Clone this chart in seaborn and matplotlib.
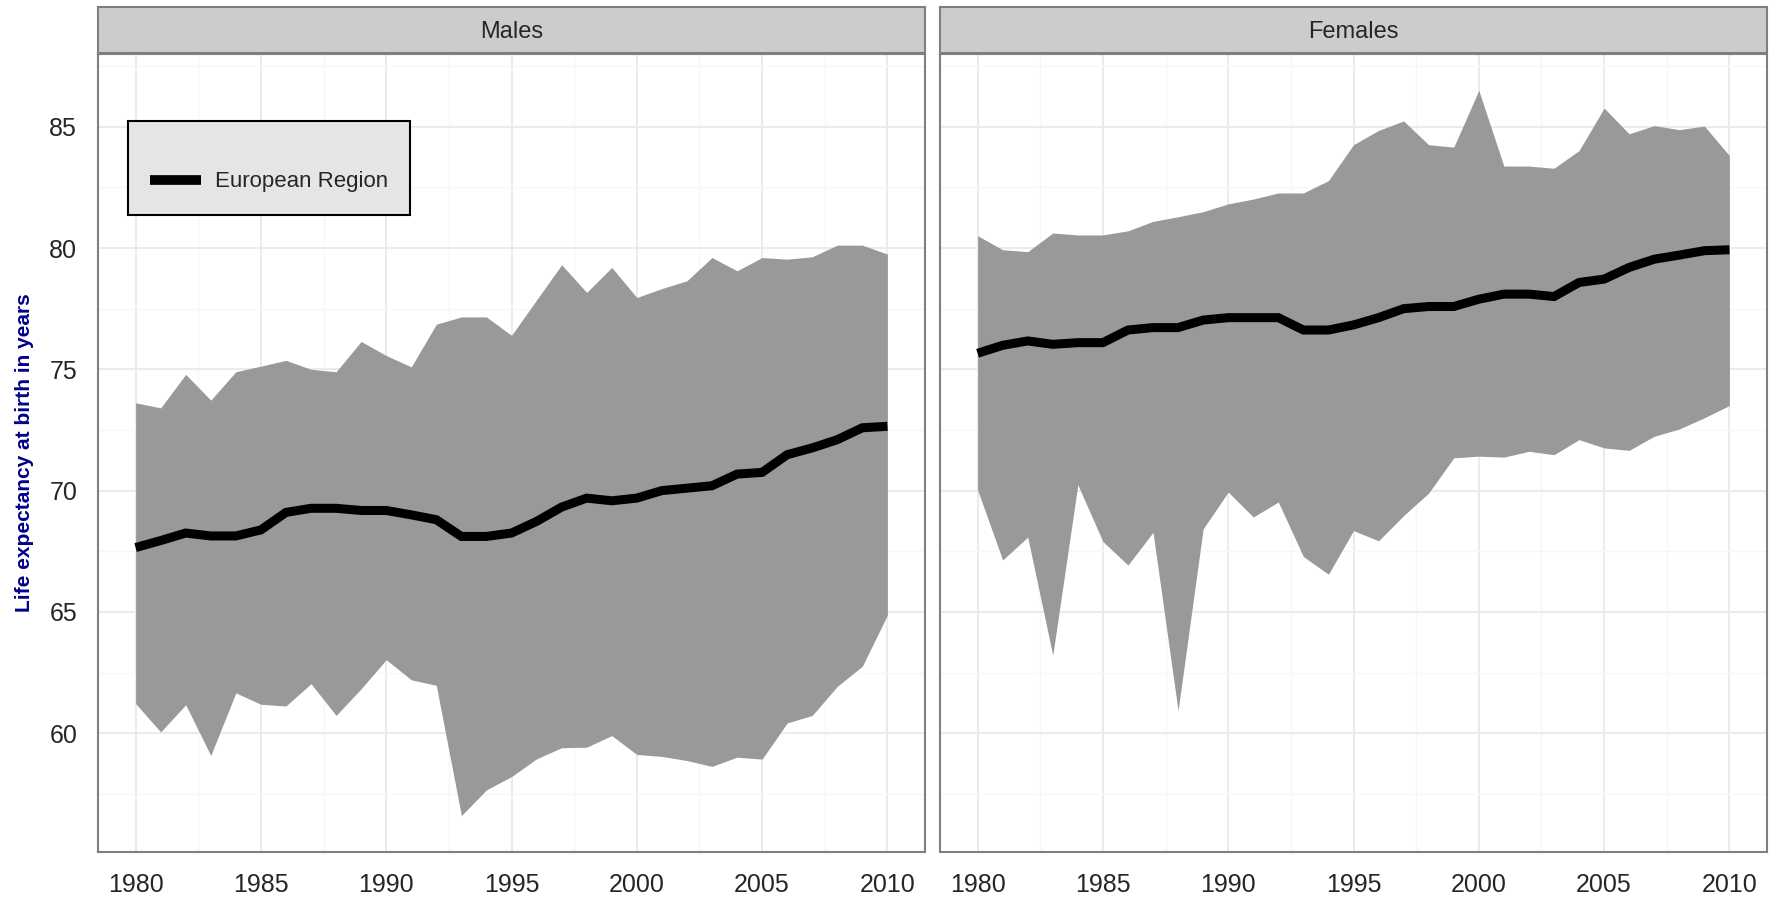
import numpy as np
import pandas as pd
import seaborn as sns
import matplotlib.pyplot as plt

# life expectancy at birth, European Region: mean line and min/max ribbon
years = list(range(1980, 2011))

male_mean = [67.65, 67.94, 68.25, 68.13, 68.13, 68.38, 69.10, 69.27, 69.27, 69.18,
             69.18, 69.00, 68.80, 68.11, 68.11, 68.25, 68.73, 69.32, 69.69, 69.58,
             69.69, 70.00, 70.10, 70.20, 70.68, 70.75, 71.48, 71.76, 72.10, 72.59, 72.65]
male_max = [73.62, 73.41, 74.79, 73.73, 74.90, 75.13, 75.37, 75.00, 74.90, 76.15,
            75.57, 75.10, 76.86, 77.16, 77.16, 76.40, 77.86, 79.31, 78.17, 79.20,
            77.96, 78.33, 78.65, 79.61, 79.06, 79.61, 79.54, 79.64, 80.12, 80.12, 79.75]
male_min = [61.22, 60.05, 61.17, 59.08, 61.66, 61.19, 61.12, 62.04, 60.73, 61.83,
            63.03, 62.20, 61.97, 56.60, 57.66, 58.21, 58.94, 59.40, 59.42, 59.90,
            59.12, 59.04, 58.87, 58.63, 59.01, 58.93, 60.42, 60.73, 61.93, 62.76, 64.87]

female_mean = [75.66, 75.99, 76.17, 76.03, 76.10, 76.10, 76.62, 76.72, 76.72, 77.03,
               77.13, 77.13, 77.13, 76.62, 76.62, 76.83, 77.13, 77.50, 77.59, 77.59,
               77.89, 78.10, 78.10, 78.00, 78.58, 78.72, 79.20, 79.54, 79.71, 79.89, 79.93]
female_max = [80.51, 79.93, 79.85, 80.62, 80.54, 80.54, 80.71, 81.10, 81.29, 81.50,
              81.82, 82.02, 82.27, 82.27, 82.78, 84.26, 84.85, 85.24, 84.26, 84.16,
              86.50, 83.38, 83.38, 83.29, 84.02, 85.77, 84.71, 85.05, 84.88, 85.03, 83.81]
female_min = [70.03, 67.14, 68.08, 63.21, 70.24, 67.90, 66.93, 68.28, 60.93, 68.42,
              69.94, 68.91, 69.53, 67.28, 66.55, 68.35, 67.93, 68.97, 69.90, 71.35,
              71.42, 71.38, 71.62, 71.48, 72.10, 71.76, 71.66, 72.24, 72.54, 73.00, 73.51]

panels = ["Males", "Females"]
series_label = "European Region"
y_title = "Life expectancy at birth in years"

df = pd.concat([
    pd.DataFrame({"year": years, "mean": male_mean, "lo": male_min, "hi": male_max, "sex": "Males"}),
    pd.DataFrame({"year": years, "mean": female_mean, "lo": female_min, "hi": female_max, "sex": "Females"}),
])

sns.set_style("white")
plt.rcParams["font.family"] = ["Liberation Sans", "DejaVu Sans"]

W, H = 1769, 906
fig, axes = plt.subplots(1, 2, figsize=(W / 100, H / 100), dpi=100, sharey=True)
fig.subplots_adjust(left=98 / W, right=1767 / W, bottom=1 - 852 / H, top=1 - 54 / H,
                    wspace=15 / 827)

for ax, sex in zip(axes, panels):
    d = df[df["sex"] == sex]
    ax.set_facecolor("white")
    ax.fill_between(d["year"], d["lo"], d["hi"], color="#999999", lw=0, zorder=2)
    sns.lineplot(data=d, x="year", y="mean", ax=ax, color="black", lw=6.5, zorder=3,
                 solid_capstyle="butt", solid_joinstyle="miter",
                 label=series_label if sex == "Males" else None, legend=False)

    ax.set_xlim(1978.5, 2011.5)
    ax.set_ylim(55.1, 88.0)
    ax.set_xticks(range(1980, 2011, 5))
    ax.set_xticks(np.arange(1982.5, 2010, 5), minor=True)
    ax.set_yticks(range(60, 86, 5))
    ax.set_yticks(np.arange(57.5, 88, 5), minor=True)
    ax.grid(which="major", color="#EBEBEB", lw=1.4, zorder=0)
    ax.grid(which="minor", color="#F6F6F6", lw=1.0, zorder=0)
    ax.set_axisbelow(True)
    for sp in ax.spines.values():
        sp.set_color("#7F7F7F")
        sp.set_linewidth(1.5)
    ax.tick_params(which="major", length=11, width=1.4, color="black",
                   labelsize=18, pad=4)
    ax.tick_params(which="minor", length=0)
    ax.set_xlabel("")
    ax.set_ylabel("")

    # facet strip
    pos = ax.get_position()
    sax = fig.add_axes([pos.x0, 1 - 53 / H, pos.width, 46 / H])
    sax.set_facecolor("#CCCCCC")
    sax.set_xticks([])
    sax.set_yticks([])
    for sp in sax.spines.values():
        sp.set_color("#7F7F7F")
        sp.set_linewidth(1.5)
    sax.text(0.5, 0.45, sex, ha="center", va="center", fontsize=17)

axes[1].tick_params(axis="y", left=False, labelleft=False)

leg = axes[0].legend(loc="upper left", bbox_to_anchor=(128 / W, 1 - 121 / H),
                     bbox_transform=fig.transFigure, borderaxespad=0,
                     fontsize=16, title=" ", title_fontsize=13,
                     handlelength=2.3, handletextpad=0.6, borderpad=1.0,
                     fancybox=False, framealpha=1)
leg.get_frame().set_facecolor("#E5E5E5")
leg.get_frame().set_edgecolor("black")
leg.get_frame().set_linewidth(1.5)
for h in leg.get_lines():
    h.set_linewidth(7)
    h.set_solid_capstyle("butt")

fig.text(25 / W, 1 - 453 / H, y_title, rotation=90, color="darkblue",
         fontweight="bold", fontsize=15, ha="center", va="center")

fig.savefig("out.png", dpi=100)
